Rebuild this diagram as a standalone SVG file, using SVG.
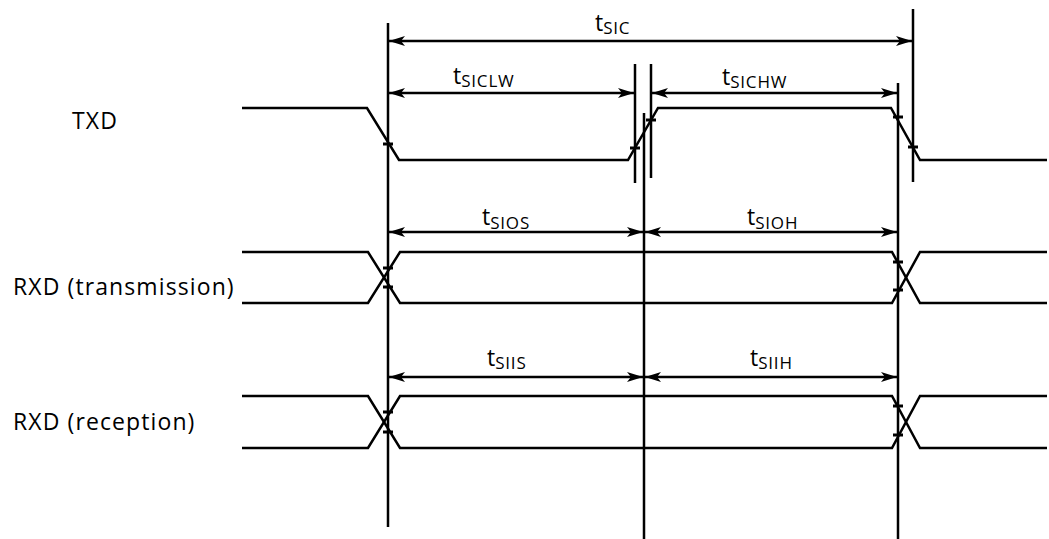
<svg xmlns="http://www.w3.org/2000/svg" width="1049" height="539" viewBox="0 0 1049 539">
<defs>
<marker id="ah" viewBox="0 0 16 10" refX="16" refY="5" markerWidth="16" markerHeight="10" markerUnits="userSpaceOnUse" orient="auto-start-reverse">
<path d="M0,0 L16,5 L0,10 L4,5 Z" fill="#000"/>
</marker>
<style>
.w{fill:none;stroke:#000;stroke-width:2.5}
.v{stroke:#000;stroke-width:2.5}
.d{stroke:#000;stroke-width:2.5;marker-start:url(#ah);marker-end:url(#ah)}
.tk{stroke:#000;stroke-width:3}
.lbl{font-family:"Open Sans","Noto Sans",sans-serif;font-size:23px;font-weight:500;letter-spacing:1.1px;fill:#000}
.t{font-family:"Open Sans","Noto Sans",sans-serif;font-size:23px;font-weight:500;fill:#000}
.s{font-size:17px;letter-spacing:0.8px}
</style>
</defs>
<rect width="1049" height="539" fill="#fff"/>
<g id="txd">
<text class="lbl" x="72" y="129">TXD</text>
<path class="w" d="M242,108 H367 L399,160 H628 L658,108 H891 L920,160 H1047"/>
</g>
<g id="rxd-transmission">
<text class="lbl" x="13" y="295">RXD (transmission)</text>
<path class="w" d="M242,252 H368 L400,303 H892 L920,252 H1047"/>
<path class="w" d="M242,303 H368 L400,252 H892 L920,303 H1047"/>
</g>
<g id="rxd-reception">
<text class="lbl" x="13" y="430">RXD (reception)</text>
<path class="w" d="M242,396 H368 L400,448 H892 L920,396 H1047"/>
<path class="w" d="M242,448 H368 L400,396 H892 L920,448 H1047"/>
</g>
<g id="connectors">
<line class="v" x1="388" y1="23" x2="388" y2="527"/>
<line class="v" x1="644" y1="113" x2="644" y2="539"/>
<line class="v" x1="635" y1="64" x2="635" y2="183"/>
<line class="v" x1="651" y1="64" x2="651" y2="178"/>
<line class="v" x1="898" y1="83" x2="898" y2="539"/>
<line class="v" x1="913" y1="9" x2="913" y2="182"/>
<line class="d" x1="389" y1="41" x2="912" y2="41"/>
<line class="d" x1="389" y1="93" x2="634" y2="93"/>
<line class="d" x1="652" y1="93" x2="897" y2="93"/>
<line class="d" x1="389" y1="232" x2="643" y2="232"/>
<line class="d" x1="645" y1="232" x2="897" y2="232"/>
<line class="d" x1="389" y1="377" x2="643" y2="377"/>
<line class="d" x1="645" y1="377" x2="897" y2="377"/>
<g class="tk">
<line x1="383" y1="144" x2="393" y2="144"/>
<line x1="630" y1="148" x2="640" y2="148"/>
<line x1="646" y1="120" x2="656" y2="120"/>
<line x1="893" y1="117" x2="903" y2="117"/>
<line x1="908" y1="147" x2="918" y2="147"/>
<line x1="383" y1="268" x2="393" y2="268"/>
<line x1="383" y1="287" x2="393" y2="287"/>
<line x1="893" y1="262" x2="903" y2="262"/>
<line x1="893" y1="290" x2="903" y2="290"/>
<line x1="383" y1="412" x2="393" y2="412"/>
<line x1="383" y1="432" x2="393" y2="432"/>
<line x1="893" y1="406" x2="903" y2="406"/>
<line x1="893" y1="435" x2="903" y2="435"/>
</g>
</g>
<g id="labels">
<text class="t" x="595" y="31">t<tspan class="s" dy="3">SIC</tspan></text>
<text class="t" x="453" y="84">t<tspan class="s" dy="3">SICLW</tspan></text>
<text class="t" x="722" y="85">t<tspan class="s" dy="3">SICHW</tspan></text>
<text class="t" x="482" y="225">t<tspan class="s" dy="4">SIOS</tspan></text>
<text class="t" x="747" y="225">t<tspan class="s" dy="4">SIOH</tspan></text>
<text class="t" x="487" y="366">t<tspan class="s" dy="3">SIIS</tspan></text>
<text class="t" x="750" y="366">t<tspan class="s" dy="3">SIIH</tspan></text>
</g>
</svg>
